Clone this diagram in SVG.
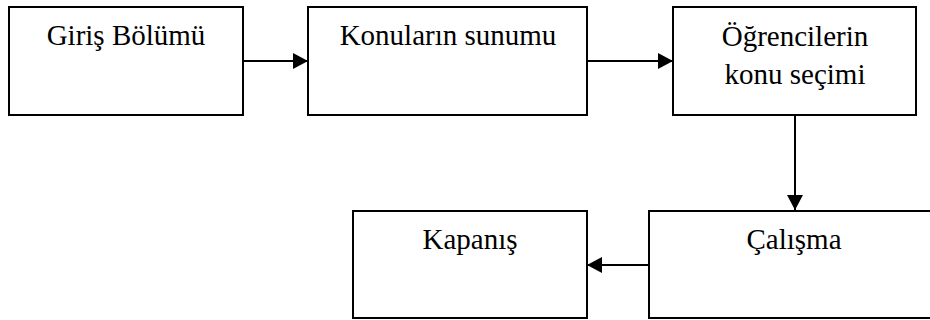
<svg xmlns="http://www.w3.org/2000/svg" width="930" height="320" viewBox="0 0 930 320">
  <style>
    .box { fill: #ffffff; stroke: #000000; stroke-width: 2; }
    .label { font-family: 'Liberation Serif', 'Times New Roman', serif; font-size: 29px; fill: #000000; text-anchor: middle; }
    .link { stroke: #000000; stroke-width: 2; fill: none; marker-end: url(#arrow); }
  </style>
  <defs>
    <marker id="arrow" markerUnits="userSpaceOnUse" markerWidth="15" markerHeight="16" refX="15" refY="8" orient="auto">
      <path d="M0,0 L15,8 L0,16 Z" fill="#000000"/>
    </marker>
  </defs>
  <rect width="930" height="320" fill="#ffffff"/>

  <g id="connectors">
    <line class="link" x1="243" y1="61" x2="308" y2="61"/>
    <line class="link" x1="587" y1="61" x2="673" y2="61"/>
    <line class="link" x1="795" y1="115" x2="795" y2="210"/>
    <line class="link" x1="649" y1="265" x2="587" y2="265"/>
  </g>

  <g id="giris">
    <rect class="box" x="9" y="7" width="234" height="108"/>
    <text class="label" x="126" y="45">Giriş Bölümü</text>
  </g>

  <g id="konular">
    <rect class="box" x="308" y="7" width="279" height="108"/>
    <text class="label" x="448" y="45">Konuların sunumu</text>
  </g>

  <g id="secim">
    <rect class="box" x="673" y="7" width="243" height="108"/>
    <text class="label" x="795" y="46">Öğrencilerin</text>
    <text class="label" x="795" y="84">konu seçimi</text>
  </g>

  <g id="calisma">
    <rect class="box" x="649" y="211" width="290" height="107"/>
    <text class="label" x="794" y="249">Çalışma</text>
  </g>

  <g id="kapanis">
    <rect class="box" x="353" y="211" width="234" height="107"/>
    <text class="label" x="470" y="249">Kapanış</text>
  </g>
</svg>
